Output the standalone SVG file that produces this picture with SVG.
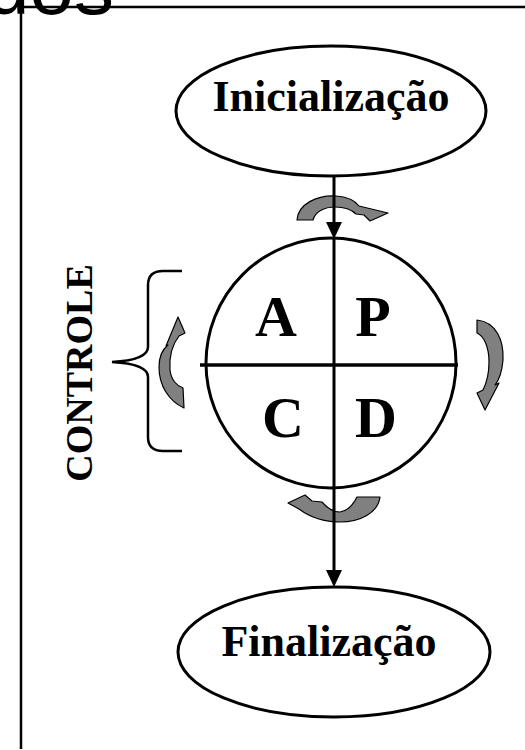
<svg xmlns="http://www.w3.org/2000/svg" width="525" height="750" viewBox="0 0 525 750">
<defs>
<style>
.frame{fill:none;stroke:#000;stroke-width:2.5}
.node{fill:#fff;stroke:#000;stroke-width:3}
.label{font-family:"Liberation Serif","Times New Roman",serif;font-weight:bold;fill:#000}
.big{font-size:44px;text-anchor:middle}
.letter{font-size:58px;text-anchor:middle}
.conn{fill:none;stroke:#000;stroke-width:3}
.cyc{fill:#808080;stroke:#000;stroke-width:1.2;stroke-linejoin:round}
.brace{fill:none;stroke:#000;stroke-width:2.5}
</style>
<marker id="ah" markerUnits="userSpaceOnUse" markerWidth="18" markerHeight="16" viewBox="0 0 18 16" refX="6" refY="8" orient="auto">
<path d="M0,0 L17,8 L0,16 z" fill="#000"/>
</marker>
</defs>
<rect width="525" height="750" fill="#fff"/>
<text x="-15" y="14" font-family="Liberation Sans, Arial, sans-serif" font-size="80" fill="#000">dos</text>
<path class="frame" d="M21,749 L21,7 L525,7"/>

<g id="inicializacao">
<ellipse class="node" cx="331" cy="111" rx="155" ry="65"/>
<text class="label big" x="331" y="111">Inicialização</text>
</g>

<g id="pdca">
<circle class="node" cx="331" cy="363" r="125" stroke-width="4"/>
<line x1="334" y1="239" x2="334" y2="488" stroke="#000" stroke-width="3"/>
<line x1="200" y1="365" x2="458" y2="365" stroke="#000" stroke-width="3.5"/>
<text class="label letter" x="276" y="336">A</text>
<text class="label letter" x="373" y="336">P</text>
<text class="label letter" x="283" y="437">C</text>
<text class="label letter" x="376" y="437">D</text>
</g>

<g id="finalizacao">
<ellipse class="node" cx="334" cy="652" rx="156" ry="65"/>
<text class="label big" x="329" y="656">Finalização</text>
</g>

<g id="controle">
<path class="brace" d="M182,271 L163,271 Q148,271 148,285 L148,347 Q148,360 112,362 Q148,364 148,377 L148,437 Q148,451 163,451 L182,451"/>
<text class="label" font-size="38" text-anchor="middle" transform="translate(92,373) rotate(-90)">CONTROLE</text>
</g>

<g id="cycle-arrows">
<path class="cyc" d="M297,220 C298,204 317,195 336,196 C349,197 356,202 359,206 L388,213 L370,221 L364,215 L356,214 C351,209 344,207 335,207 C324,207 315,212 313,220 Z"/>
<path class="cyc" d="M477,320 C496,322 504,340 503,360 C502,372 499,380 495,385 L499,383 L485,410 L477,393 L483,390 C487,382 489,372 489,362 C489,347 484,336 477,333 Z"/>
<path class="cyc" d="M184,408 C169,401 159,386 159,367 C159,356 163,349 168,345 L166,346 L178,317 L185,333 L179,336 C172,345 169,357 170,370 C171,380 177,386 183,388 Z"/>
<path class="cyc" d="M357,497 L380,497 C378,513 360,522 340,522 C321,522 307,515 299,509 L288,503 L305,495 L312,501 L322,502 C328,509 334,512 340,512 C347,511 353,505 357,497 Z"/>
</g>

<g id="connectors">
<line class="conn" x1="334" y1="176" x2="334" y2="228" marker-end="url(#ah)"/>
<line class="conn" x1="334" y1="488" x2="334" y2="576" marker-end="url(#ah)"/>
</g>
</svg>
